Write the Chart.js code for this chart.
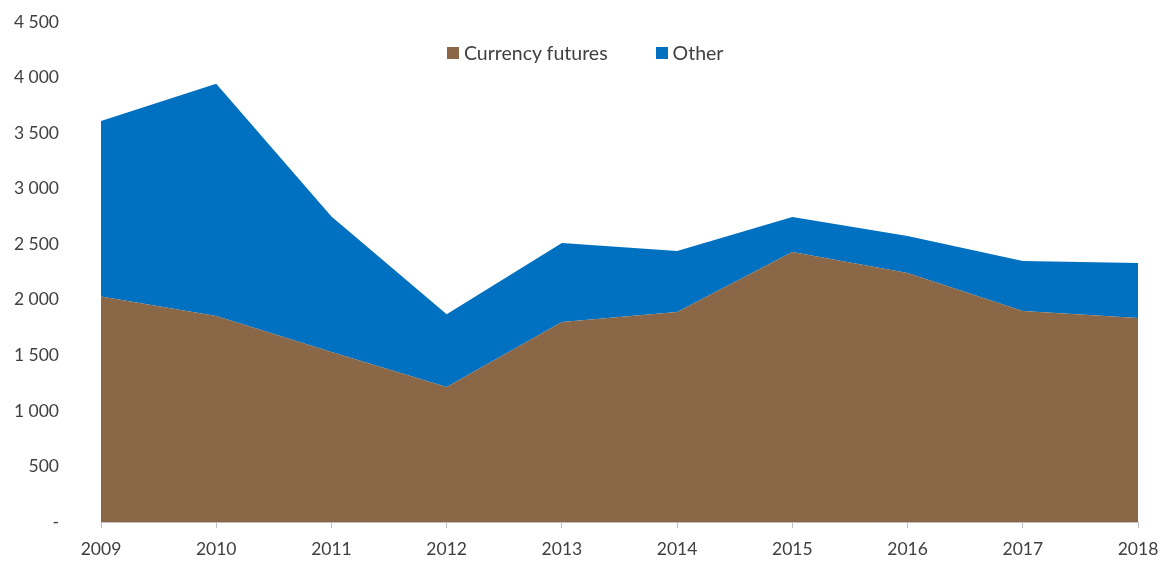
<!DOCTYPE html>
<html>
<head>
<meta charset="utf-8">
<script src="https://cdn.jsdelivr.net/npm/chart.js@4"></script>
<style>
  html, body { margin: 0; padding: 0; background: #fff; }
  #wrap { position: relative; width: 1170px; height: 561px; }
  #legend {
    position: absolute; top: 41px; left: 447px;
    display: flex; font-family: Lato, "Open Sans", sans-serif; font-size: 19.5px; color: #404040;
  }
  .item { display: flex; align-items: center; margin-right: 48px; }
  .box { width: 12px; height: 12px; margin-right: 5px; }
</style>
</head>
<body>
<div id="wrap">
  <canvas id="c" width="1170" height="561"></canvas>
  <div id="legend"></div>
</div>
<script>
  // values
  const years = ['2009', '2010', '2011', '2012', '2013', '2014', '2015', '2016', '2017', '2018'];
  const currencyFutures = [2030, 1855, 1530, 1215, 1800, 1890, 2430, 2240, 1900, 1835];
  const other = [1580, 2090, 1220, 655, 710, 550, 315, 335, 450, 495];
  const yTickLabels = ['-', '500', '1 000', '1 500', '2 000', '2 500', '3 000', '3 500', '4 000', '4 500'];

  const brown = '#8A6746';
  const blue = '#0070C0';
  const textColor = '#404040';
  const font = { family: 'Lato, "Open Sans", sans-serif', size: 17.5 };

  const chart = new Chart(document.getElementById('c'), {
    type: 'line',
    data: {
      labels: years,
      datasets: [
        { label: 'Currency futures', data: currencyFutures, backgroundColor: brown, borderWidth: 0, fill: 'origin', pointRadius: 0, tension: 0 },
        { label: 'Other', data: other, backgroundColor: blue, borderWidth: 0, fill: '-1', pointRadius: 0, tension: 0 }
      ]
    },
    options: {
      responsive: false,
      animation: false,
      layout: { padding: { top: 22, right: 32, bottom: 0, left: 0 } },
      plugins: { legend: { display: false }, tooltip: { enabled: false } },
      scales: {
        x: {
          offset: false,
          grid: { drawOnChartArea: false, tickLength: 6, color: '#bfbfbf' },
          border: { color: '#bfbfbf' },
          ticks: { color: textColor, font: font, padding: 11, maxRotation: 0 },
          afterFit: s => { s.height = 39; }
        },
        y: {
          stacked: true,
          min: 0, max: 4500,
          grid: { display: false },
          border: { display: false },
          ticks: {
            stepSize: 500, color: textColor, font: font, padding: 34,
            callback: (v, i) => yTickLabels[i]
          },
          // tick padding also pads top/bottom in chart.js, drop that
          afterFit: s => { s.width = 101; s.paddingTop = 0; s.paddingBottom = 0; }
        }
      }
    }
  });

  // legend drawn over the plot, like the original
  const leg = document.getElementById('legend');
  chart.data.datasets.forEach(ds => {
    const it = document.createElement('div');
    it.className = 'item';
    it.innerHTML = '<span class="box" style="background:' + ds.backgroundColor + '"></span>' + ds.label;
    leg.appendChild(it);
  });
</script>
</body>
</html>
